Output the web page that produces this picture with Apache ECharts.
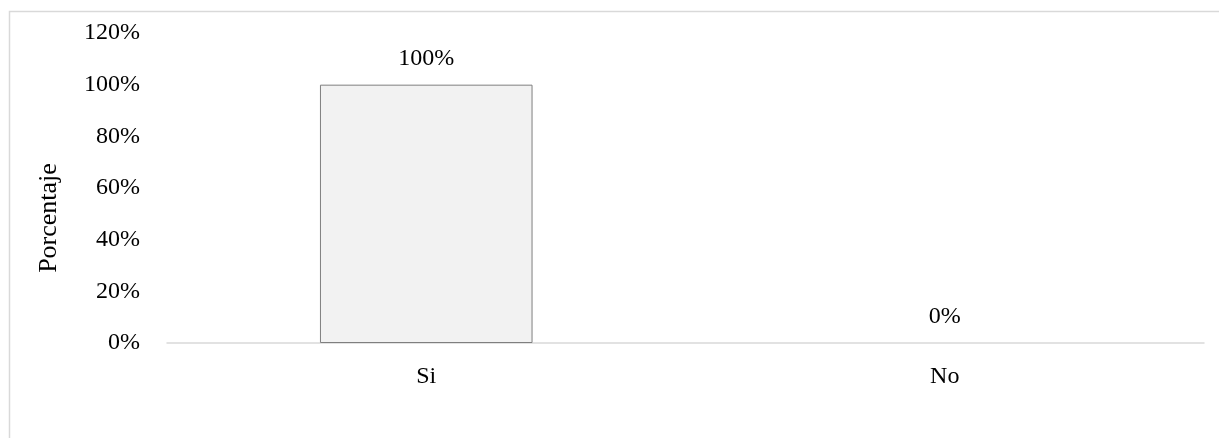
<!DOCTYPE html>
<html>
<head>
<meta charset="utf-8">
<script src="https://cdn.jsdelivr.net/npm/echarts@6/dist/echarts.min.js"></script>
<style>
html,body{margin:0;padding:0;background:#fff;}
#c{width:1219px;height:438px;}
</style>
</head>
<body>
<div id="c"></div>
<script>
const categories = ['Si', 'No'];
const values = [100, 0];
const yTicks = [0, 20, 40, 60, 80, 100, 120];
const yName = 'Porcentaje';

const font = '"Liberation Serif", "Times New Roman", serif';
const chart = echarts.init(document.getElementById('c'));
chart.setOption({
  animation: false,
  backgroundColor: '#fff',
  textStyle: { fontFamily: font },
  graphic: [{
    type: 'rect',
    shape: { x: 9.5, y: 11.5, width: 1300, height: 600 },
    style: { fill: 'none', stroke: '#d9d9d9', lineWidth: 1.5 },
    silent: true, z: -1
  }],
  grid: { left: 167, right: 15, top: 33, bottom: 95 },
  xAxis: {
    type: 'category',
    data: categories,
    axisLine: { lineStyle: { color: '#d9d9d9', width: 1.5 } },
    axisTick: { show: false },
    axisLabel: { color: '#000', fontSize: 24, fontFamily: font, margin: 22 }
  },
  yAxis: {
    type: 'value',
    min: yTicks[0],
    max: yTicks[yTicks.length - 1],
    interval: 20,
    name: yName,
    nameLocation: 'middle',
    nameGap: 105,
    nameRotate: 90,
    nameTextStyle: { color: '#000', fontSize: 26, fontFamily: font, padding: [0, 60, 0, 0] },
    axisLine: { show: false },
    axisTick: { show: false },
    splitLine: { show: false },
    axisLabel: { color: '#000', fontSize: 24, fontFamily: font, margin: 27, formatter: '{value}%' }
  },
  series: [{
    type: 'bar',
    data: values.map(v => v === 0
      ? { value: v, itemStyle: { borderWidth: 0, color: 'rgba(0,0,0,0)' } }
      : v),
    barWidth: '41%',
    itemStyle: { color: '#f2f2f2', borderColor: '#7f7f7f', borderWidth: 1 },
    label: {
      show: true, position: 'top', distance: 14,
      color: '#000', fontSize: 24, fontFamily: font, formatter: '{c}%'
    }
  }]
});
</script>
</body>
</html>
